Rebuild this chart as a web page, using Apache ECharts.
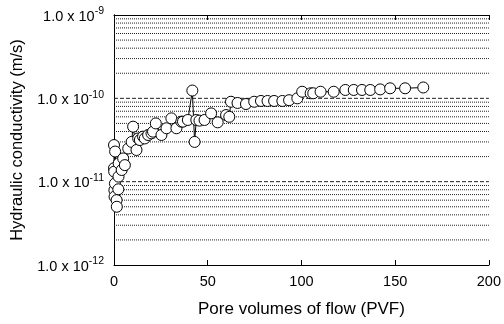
<!DOCTYPE html>
<html><head><meta charset="utf-8">
<script src="https://cdn.jsdelivr.net/npm/echarts@6/dist/echarts.min.js"></script>
<style>html,body{margin:0;padding:0;background:#fff}#c{width:504px;height:324px}</style>
</head><body><div id="c"></div>
<script>
// Pore volumes of flow (PVF)
var pvf = [0, 0, 0.1, 0.2, 0.3, 0.5, 0.6, 1.4, 1.5, 2.3, 2.4, 2.5, 4.1, 4.9, 5.8, 7.6, 9.4, 10.2, 12.0, 12.9, 13.8, 15.5, 16.4, 18.2, 20.0, 20.8, 22.3, 25.3, 28.0, 30.6, 33.3, 35.9, 36.8, 39.4, 41.8, 43.0, 43.9, 45.6, 48.3, 51.8, 55.3, 59.8, 61.5, 62.4, 65.9, 70.4, 74.8, 78.4, 81.9, 85.4, 89.8, 93.4, 97.8, 100.4, 104.9, 106.3, 110.2, 117.2, 123.4, 127.9, 132.3, 136.7, 142.0, 147.3, 155.3, 165.0];
// Hydraulic conductivity (m/s)
var conductivity = [2.75e-11, 1.45e-11, 1.32e-11, 7.9e-12, 6.6e-12, 9.5e-12, 2.3e-11, 6.0e-12, 5.0e-12, 8.1e-12, 1.15e-11, 1.66e-11, 1.38e-11, 1.9e-11, 1.58e-11, 2.5e-11, 3.0e-11, 4.57e-11, 2.4e-11, 3.3e-11, 3.16e-11, 3.47e-11, 3.3e-11, 3.63e-11, 3.8e-11, 3.98e-11, 5.0e-11, 3.63e-11, 4.37e-11, 5.75e-11, 4.37e-11, 5.25e-11, 5.25e-11, 5.5e-11, 1.24e-10, 3.0e-11, 5.5e-11, 5.4e-11, 5.5e-11, 6.6e-11, 5.15e-11, 6.3e-11, 6.0e-11, 9.1e-11, 8.8e-11, 8.55e-11, 9.1e-11, 9.3e-11, 9.3e-11, 9.3e-11, 9.3e-11, 9.5e-11, 1.0e-10, 1.2e-10, 1.15e-10, 1.15e-10, 1.2e-10, 1.2e-10, 1.26e-10, 1.26e-10, 1.26e-10, 1.26e-10, 1.28e-10, 1.32e-10, 1.32e-10, 1.35e-10];
var xTicks = [0, 50, 100, 150, 200];
var yTickExponents = [-12, -11, -10, -9];
var minorMultipliers = [2, 3, 4, 5, 6, 7, 8, 9];
var decadeLines = [1e-11, 1e-10];

var pts = pvf.map(function (x, i) { return [x, conductivity[i]]; });
var xMin = xTicks[0], xMax = xTicks[xTicks.length - 1];

var gridSeries = [];
function addGrid(v, type) {
  gridSeries.push({
    type: 'line', data: [[xMin, v], [xMax, v]], symbol: 'none', silent: true,
    lineStyle: { color: '#222', width: 1, type: type }, z: 1, animation: false
  });
}
yTickExponents.slice(0, -1).forEach(function (e) {
  minorMultipliers.forEach(function (m) { addGrid(m * Math.pow(10, e), [1, 1]); });
});
decadeLines.forEach(function (v) { addGrid(v, [4, 2]); });

var font = 'Liberation Sans, Arial, sans-serif';
var chart = echarts.init(document.getElementById('c'));
chart.setOption({
  animation: false,
  backgroundColor: '#fff',
  grid: { left: 114, right: 13, top: 15, bottom: 59 },
  xAxis: [{
    type: 'value', min: xMin, max: xMax, interval: 50, position: 'bottom',
    name: 'Pore volumes of flow (PVF)', nameLocation: 'middle', nameGap: 36,
    nameTextStyle: { fontFamily: font, fontSize: 17, color: '#000' },
    axisLine: { show: true, onZero: false, lineStyle: { color: '#000', width: 1 } },
    axisTick: { show: true, inside: true, length: 5, lineStyle: { color: '#000' } },
    axisLabel: { fontFamily: font, fontSize: 14.5, color: '#000', margin: 9 },
    splitLine: { show: false }
  }, {
    type: 'value', min: xMin, max: xMax, interval: 50, position: 'top',
    axisLine: { show: true, onZero: false, lineStyle: { color: '#000', width: 1 } },
    axisTick: { show: true, inside: true, length: 5, lineStyle: { color: '#000' } },
    axisLabel: { show: false }, splitLine: { show: false }
  }],
  yAxis: [{
    type: 'log', logBase: 10, min: 1e-12, max: 1e-9,
    name: 'Hydraulic conductivity (m/s)', nameLocation: 'middle', nameGap: 87,
    nameTextStyle: { fontFamily: font, fontSize: 16.5, color: '#000' },
    axisLine: { show: true, lineStyle: { color: '#000', width: 1 } },
    axisTick: { show: false },
    splitLine: { show: false },
    axisLabel: {
      margin: 10, color: '#000',
      formatter: function (v) {
        var e = Math.round(Math.log10(v));
        return '{b|1.0 x 10}{s|' + e + '}';
      },
      rich: {
        b: { fontFamily: font, fontSize: 14.5, color: '#000', verticalAlign: 'bottom', lineHeight: 18 },
        s: { fontFamily: font, fontSize: 10.5, color: '#000', verticalAlign: 'top', lineHeight: 18, padding: [0, 0, 7, 0] }
      }
    }
  }, {
    type: 'log', logBase: 10, min: 1e-12, max: 1e-9, position: 'right',
    axisLine: { show: true, lineStyle: { color: '#000', width: 1 } },
    axisTick: { show: false }, axisLabel: { show: false }, splitLine: { show: false }
  }],
  series: gridSeries.concat([{
    type: 'line', data: pts, xAxisIndex: 0, yAxisIndex: 0,
    symbol: 'circle', symbolSize: 11,
    itemStyle: { color: '#fff', borderColor: '#000', borderWidth: 1 },
    lineStyle: { color: '#000', width: 1 },
    z: 5
  }])
});
</script></body></html>
